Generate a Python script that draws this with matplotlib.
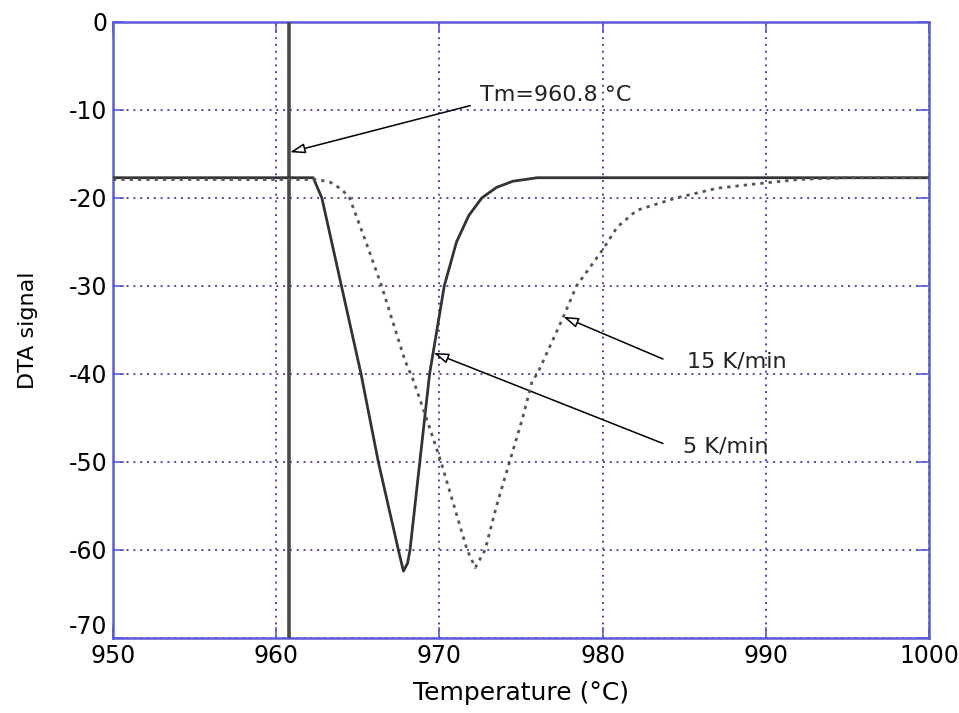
import matplotlib
matplotlib.use("Agg")
import matplotlib.pyplot as plt
import matplotlib.transforms as mtransforms

# ---- data ----
temp_5k = [950, 962.27, 962.8, 964.0, 965.2, 966.26, 967.55, 967.8, 968.05, 968.2,
           968.8, 969.4, 970.3, 971.05, 971.8, 972.6, 973.5, 974.5, 976.0, 1000]
dta_5k = [-17.7, -17.7, -20, -30, -40, -50, -60.5, -62.4, -61.5, -60,
          -50, -40, -30, -25, -22, -20, -18.8, -18.1, -17.7, -17.7]

temp_15k = [950, 962.5, 963.3, 964.0, 964.5, 965.5, 966.46, 967.3, 967.9, 968.4,
            969.2, 970.1, 970.9, 971.7, 972.2, 972.8, 973.5, 974.3, 975.1, 975.7,
            976.0, 977.6, 978.4, 980.0, 980.9, 982.1, 984.5, 987.0, 989.4, 992.0,
            995.0, 1000]
dta_15k = [-17.9, -17.9, -18.2, -19.0, -20, -25, -30, -35, -38.5, -40.7,
           -45, -50, -55, -60, -62.0, -60, -55, -50, -45, -40.7,
           -40, -33.5, -30, -25.9, -23.3, -21.4, -20, -18.9, -18.4, -17.9,
           -17.7, -17.7]

tm_value = 960.8
x_ticks = [950, 960, 970, 980, 990, 1000]
y_ticks = [-70, -60, -50, -40, -30, -20, -10, 0]
x_label = "Temperature (°C)"
y_label = "DTA signal"
tm_text = "Tm=960.8 °C"
label_15k = "15 K/min"
label_5k = "5 K/min"

# ---- figure ----
plt.rcParams['font.family'] = ['DejaVu Sans']
plt.rcParams['axes.unicode_minus'] = False
fig = plt.figure(figsize=(9.59, 7.13), dpi=100)
ax = fig.add_axes([0.1178, 0.1052, 0.8509, 0.8640])

blue = '#5a5ad8'
grid_c = '#4a4aa8'

ax.set_xlim(950, 1000)
ax.set_ylim(-70, 0)
ax.set_xticks(x_ticks)
ax.set_yticks(y_ticks)
ax.grid(True, color=grid_c, linestyle=(0, (1, 2.5)), linewidth=1.4)
ax.set_axisbelow(True)

for s in ax.spines.values():
    s.set_color(blue)
    s.set_linewidth(1.8)
ax.tick_params(direction='in', length=8, width=1.2, color=blue,
               top=True, right=True, labelsize=17, labelcolor='black', pad=4)

# raise the lowest y tick label a little, as in the reference
fig.canvas.draw()
for lab in ax.get_yticklabels():
    if lab.get_text() in ('-70', '−70'):
        lab.set_transform(lab.get_transform() +
                          mtransforms.ScaledTranslation(0, 10 / 72, fig.dpi_scale_trans))

ax.axvline(tm_value, color='#4a4a4a', linewidth=2.6, zorder=3)

ax.plot(temp_5k, dta_5k, color='#333333', linewidth=2.0, zorder=4)
ax.plot(temp_15k, dta_15k, color='#555555', linewidth=2.0,
        linestyle=(0, (1.2, 1.8)), zorder=4)

arrow_kw = dict(arrowstyle='-|>,head_length=0.9,head_width=0.3',
                fc='white', ec='black', lw=1.1, shrinkA=0, shrinkB=0)

ax.annotate('', xy=(960.85, -14.8), xytext=(971.9, -9.5), arrowprops=arrow_kw)
ax.text(972.5, -8.3, tm_text, fontsize=16, va='center', ha='left', color='#222222')

ax.annotate('', xy=(977.6, -33.5), xytext=(983.7, -38.3), arrowprops=arrow_kw)
ax.text(985.2, -38.6, label_15k, fontsize=16, va='center', ha='left', color='#222222')

ax.annotate('', xy=(969.65, -37.6), xytext=(983.7, -47.9), arrowprops=arrow_kw)
ax.text(984.9, -48.2, label_5k, fontsize=16, va='center', ha='left', color='#222222')

ax.set_xlabel(x_label, fontsize=18, labelpad=10)
ax.set_ylabel(y_label, fontsize=16, labelpad=22)

fig.savefig('out.png', dpi=100)
